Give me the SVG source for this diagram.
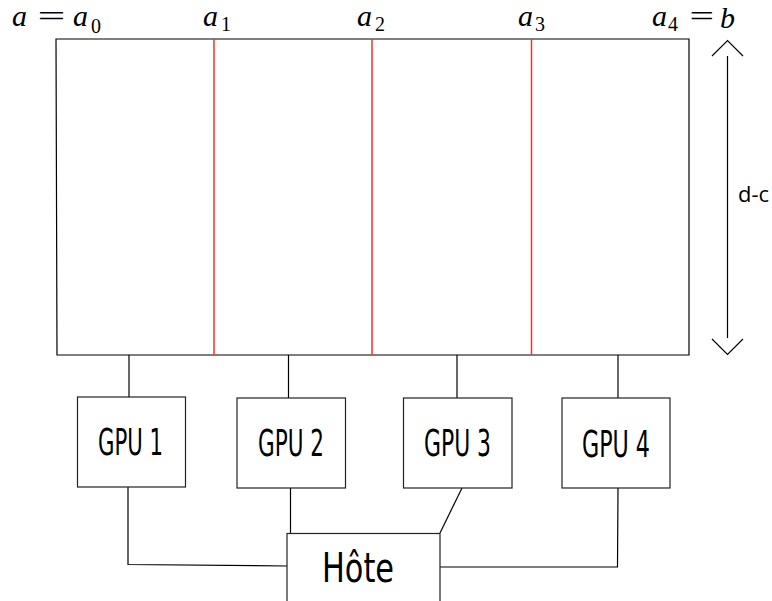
<svg xmlns="http://www.w3.org/2000/svg" width="772" height="601" viewBox="0 0 772 601">
<style>
.ln{stroke:#000;stroke-width:1.2;fill:none}
.box{fill:#fff;stroke:#222;stroke-width:1.2}
.red{stroke:#ff2a2a;stroke-width:1.5}
.m{font-family:"Liberation Serif",serif;font-size:30px;fill:#000}
.mi{font-style:italic}
.sub{font-size:20px}
.g{font-family:"DejaVu Sans Condensed","DejaVu Sans",sans-serif;font-size:37px;fill:#000}
.dc{font-family:"Open Sans",sans-serif;font-size:21px;fill:#000}
</style>
<g id="domain">
<path class="ln" d="M56 39 H689 V355 H57 Z"/>
<line class="red" x1="214" y1="39" x2="214" y2="355"/>
<line class="red" x1="372" y1="39" x2="372" y2="355"/>
<line class="red" x1="531.5" y1="39" x2="531.5" y2="355"/>
</g>
<g id="labels">
<text class="m"><tspan class="mi" x="12" y="26">a</tspan><tspan class="mi" x="73" y="26">a</tspan><tspan class="sub" x="91" y="33">0</tspan></text>
<text class="m" transform="translate(37.5,26) scale(1.65,1)">=</text>
<text class="m"><tspan class="mi" x="203" y="26">a</tspan><tspan class="sub" x="221" y="31">1</tspan></text>
<text class="m"><tspan class="mi" x="357" y="26">a</tspan><tspan class="sub" x="375" y="31">2</tspan></text>
<text class="m"><tspan class="mi" x="518" y="26">a</tspan><tspan class="sub" x="535" y="31">3</tspan></text>
<text class="m"><tspan class="mi" x="652" y="26">a</tspan><tspan class="sub" x="668" y="31">4</tspan><tspan class="mi" x="720" y="28">b</tspan></text>
<text class="m" transform="translate(689.5,26) scale(1.45,1)">=</text>
</g>
<g id="dim">
<line class="ln" x1="727.5" y1="56" x2="727.5" y2="338"/>
<path class="ln" d="M712 56 L727.5 40.5 L743 56"/>
<path class="ln" d="M712 339 L727.5 354.5 L743 339"/>
<text class="dc" x="738" y="202" textLength="31" lengthAdjust="spacingAndGlyphs">d-c</text>
</g>
<g id="connectors">
<line class="ln" x1="129" y1="355" x2="129" y2="397"/>
<line class="ln" x1="288.5" y1="355" x2="288.5" y2="398"/>
<line class="ln" x1="457" y1="355" x2="457" y2="398"/>
<line class="ln" x1="618" y1="355" x2="618" y2="398"/>
<path class="ln" d="M128 487 V564.5 L287 566"/>
<line class="ln" x1="290.5" y1="488" x2="290.5" y2="533"/>
<line class="ln" x1="462" y1="488" x2="440" y2="533"/>
<path class="ln" d="M618 488 L617.5 567 H440"/>
</g>
<g id="gpu1"><rect class="box" x="77.5" y="397" width="108" height="90"/><text class="g" x="98" y="455" textLength="65" lengthAdjust="spacingAndGlyphs">GPU 1</text></g>
<g id="gpu2"><rect class="box" x="237" y="398" width="108.5" height="90"/><text class="g" x="258" y="456" textLength="66" lengthAdjust="spacingAndGlyphs">GPU 2</text></g>
<g id="gpu3"><rect class="box" x="403.5" y="398" width="108.5" height="90"/><text class="g" x="424" y="456" textLength="67" lengthAdjust="spacingAndGlyphs">GPU 3</text></g>
<g id="gpu4"><rect class="box" x="562" y="398" width="108" height="90"/><text class="g" x="582" y="457" textLength="68" lengthAdjust="spacingAndGlyphs">GPU 4</text></g>
<g id="hote"><rect class="box" x="287" y="533.5" width="153" height="80"/><text class="g" style="font-size:40px" x="322" y="582" textLength="72" lengthAdjust="spacingAndGlyphs">Hôte</text></g>
</svg>
